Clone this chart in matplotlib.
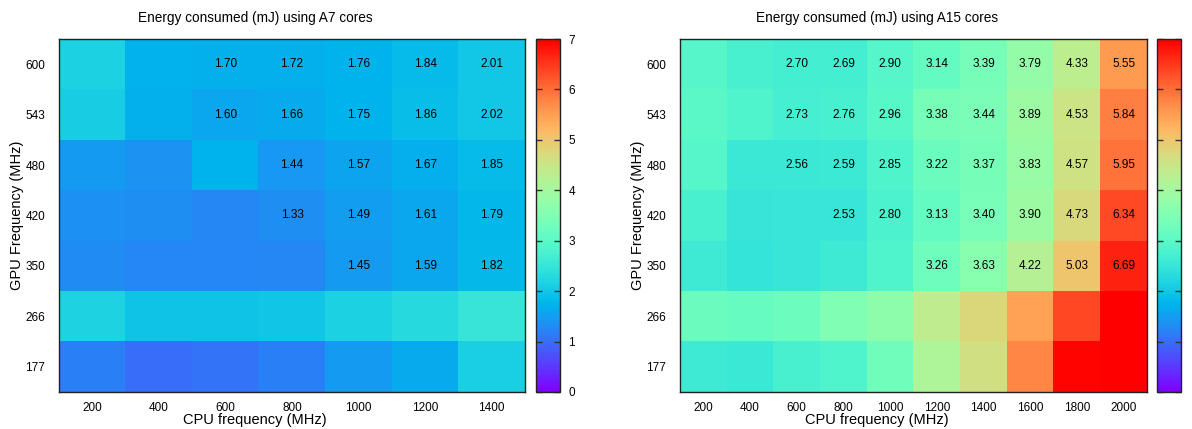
import numpy as np
import matplotlib
matplotlib.use("Agg")
import matplotlib.pyplot as plt

plt.rcParams['font.family'] = ['Liberation Sans', 'DejaVu Sans']

gpu_freqs = [600, 543, 480, 420, 350, 266, 177]
cpu_a7 = [200, 400, 600, 800, 1000, 1200, 1400]
cpu_a15 = [200, 400, 600, 800, 1000, 1200, 1400, 1600, 1800, 2000]

# Energy (mJ), rows = GPU freq (top to bottom), cols = CPU freq
energy_a7 = [
    [2.15, 1.74, 1.70, 1.72, 1.76, 1.84, 2.01],
    [2.10, 1.72, 1.60, 1.66, 1.75, 1.86, 2.02],
    [1.45, 1.38, 1.76, 1.44, 1.57, 1.67, 1.85],
    [1.36, 1.33, 1.27, 1.33, 1.49, 1.61, 1.79],
    [1.30, 1.24, 1.24, 1.28, 1.45, 1.59, 1.82],
    [2.18, 1.96, 1.96, 1.98, 2.15, 2.28, 2.50],
    [1.18, 1.00, 1.05, 1.18, 1.45, 1.66, 2.12],
]
# which cells carry a printed value
shown_a7 = [
    [0, 0, 1, 1, 1, 1, 1],
    [0, 0, 1, 1, 1, 1, 1],
    [0, 0, 0, 1, 1, 1, 1],
    [0, 0, 0, 1, 1, 1, 1],
    [0, 0, 0, 0, 1, 1, 1],
    [0, 0, 0, 0, 0, 0, 0],
    [0, 0, 0, 0, 0, 0, 0],
]

energy_a15 = [
    [2.95, 2.75, 2.70, 2.69, 2.90, 3.14, 3.39, 3.79, 4.33, 5.55],
    [3.00, 2.85, 2.73, 2.76, 2.96, 3.38, 3.44, 3.89, 4.53, 5.84],
    [2.90, 2.55, 2.56, 2.59, 2.85, 3.22, 3.37, 3.83, 4.57, 5.95],
    [2.75, 2.50, 2.52, 2.53, 2.80, 3.13, 3.40, 3.90, 4.73, 6.34],
    [2.60, 2.48, 2.52, 2.62, 2.85, 3.26, 3.63, 4.22, 5.03, 6.69],
    [3.20, 3.15, 3.25, 3.50, 3.70, 4.35, 4.75, 5.45, 6.35, 7.00],
    [2.60, 2.55, 2.75, 2.85, 3.30, 4.15, 4.60, 5.75, 6.95, 7.00],
]
shown_a15 = [
    [0, 0, 1, 1, 1, 1, 1, 1, 1, 1],
    [0, 0, 1, 1, 1, 1, 1, 1, 1, 1],
    [0, 0, 1, 1, 1, 1, 1, 1, 1, 1],
    [0, 0, 0, 1, 1, 1, 1, 1, 1, 1],
    [0, 0, 0, 0, 0, 1, 1, 1, 1, 1],
    [0, 0, 0, 0, 0, 0, 0, 0, 0, 0],
    [0, 0, 0, 0, 0, 0, 0, 0, 0, 0],
]

titles = ["Energy consumed (mJ) using A7 cores", "Energy consumed (mJ) using A15 cores"]

W, H = 1192, 429
fig = plt.figure(figsize=(W / 100, H / 100), dpi=100)

def px_axes(x0, y0, x1, y1):
    return fig.add_axes([x0 / W, 1 - y1 / H, (x1 - x0) / W, (y1 - y0) / H])

panels = [
    (cpu_a7, energy_a7, shown_a7, titles[0], (59, 39, 525, 392), (536, 39, 560, 392), 255, True),
    (cpu_a15, energy_a15, shown_a15, titles[1], (680, 39, 1147, 392), (1157, 39, 1181, 392), 877, False),
]

for cpus, data, shown, title, axbox, cbbox, cx, cblabels in panels:
    ax = px_axes(*axbox)
    arr = np.array(data)
    im = ax.imshow(arr, cmap='rainbow', vmin=0, vmax=7, aspect='auto',
                   interpolation='nearest')
    for i in range(arr.shape[0]):
        for j in range(arr.shape[1]):
            if shown[i][j]:
                ax.text(j, i, f"{arr[i, j]:.2f}", ha='center', va='center',
                        fontsize=8.5, color='black')
    ax.set_xticks(range(len(cpus)))
    ax.set_xticklabels([str(c) for c in cpus])
    ax.set_yticks(range(len(gpu_freqs)))
    ax.set_yticklabels([str(g) for g in gpu_freqs])
    ax.tick_params(axis='x', length=0, labelsize=8.5, pad=7)
    ax.tick_params(axis='y', length=0, labelsize=8.5, pad=10)
    ax.set_ylabel("GPU Frequency (MHz)", fontsize=10.5, labelpad=1)
    fig.text(cx / W, 1 - 18 / H, title, ha='center', va='center', fontsize=9.8)
    fig.text(cx / W, 1 - 424 / H, "CPU frequency (MHz)", ha='center',
             va='baseline', fontsize=10.5)
    for s in ax.spines.values():
        s.set_linewidth(1.0)
        s.set_color('#222222')

    cax = px_axes(*cbbox)
    cb = fig.colorbar(im, cax=cax)
    cb.set_ticks(range(0, 8))
    cax.tick_params(direction='in', length=4, width=1, left=True, right=True,
                    labelsize=8.5, pad=6, color='#333333', labelright=cblabels)
    cb.outline.set_linewidth(1.0)
    cb.outline.set_edgecolor('#222222')

fig.savefig("out.png", dpi=100)
